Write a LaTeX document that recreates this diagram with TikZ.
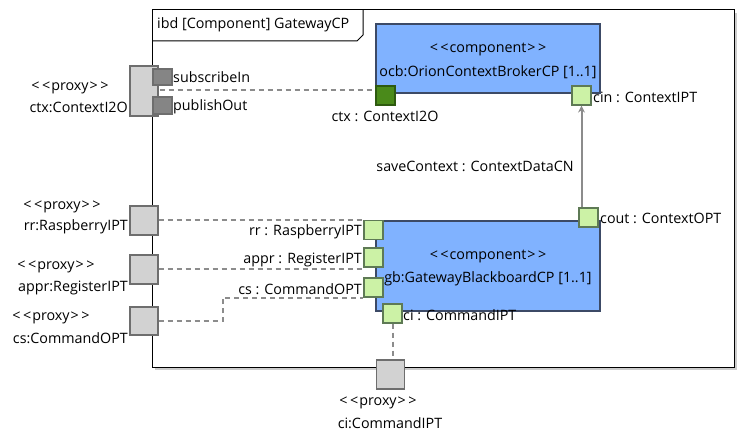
\documentclass[tikz,border=0pt]{standalone}
\usepackage{fontspec}
\setmainfont{Open Sans}
\usetikzlibrary{arrows.meta,calc}
\definecolor{compblue}{HTML}{80B2FF}
\definecolor{compborder}{HTML}{3C4A66}
\definecolor{portgreen}{HTML}{CCF2A6}
\definecolor{portborder}{HTML}{5E7A55}
\definecolor{darkgreen}{HTML}{4A8A1A}
\definecolor{darkgreenb}{HTML}{2E5A10}
\definecolor{proxygray}{HTML}{D2D2D2}
\definecolor{proxyborder}{HTML}{6E6E6E}
\definecolor{innergray}{HTML}{858585}
\definecolor{connline}{HTML}{8C8C8C}
\newcommand{\stereo}[1]{<\kern2.5pt<\kern1pt#1\kern1pt>\kern2.5pt>}
\tikzset{
  every node/.style={font=\fontsize{14.3}{16}\selectfont, inner sep=0pt},
  comp/.style={draw=compborder, fill=compblue, line width=1.2pt, minimum width=224pt, align=center, inner sep=0pt},
  portsq/.style={draw=portborder, fill=portgreen, line width=1.2pt, minimum size=19pt},
  portdark/.style={draw=darkgreenb, fill=darkgreen, line width=1.2pt, minimum size=19pt},
  proxybox/.style={draw=proxyborder, fill=proxygray, line width=1.2pt, minimum width=28pt},
  innerport/.style={draw=proxyborder, fill=innergray, line width=1.2pt, minimum width=19pt},
  conn/.style={draw=connline, line width=2pt, dash pattern=on 5pt off 4pt},
  lbl/.style={text=black},
}
\begin{document}
\begin{tikzpicture}[x=1pt,y=-1pt]
\useasboundingbox (0,0) rectangle (746,443);
% frame with shadow
\draw[gray!40, line width=2pt] (736,13) -- (736,369) -- (155,369);
\draw[black, line width=1pt, fill=white] (152,10) rectangle (734,367);
\draw[black, line width=1pt] (152,41) -- (357,41) -- (363,35) -- (363,10);
\node[lbl, anchor=west] (title) at (157,25) {ibd [Component] GatewayCP};

% components
\node[comp, minimum height=69pt] (ocb) at (488,58.5) {};
\node[lbl] (ocbst) at (488,50) {\stereo{component}};
\node[lbl] (ocbname) at (488,72) {ocb:OrionContextBrokerCP [1..1]};
\node[comp, minimum height=90pt] (gb) at (488,266) {};
\node[lbl] (gbst) at (488,257) {\stereo{component}};
\node[lbl] (gbname) at (488,279) {gb:GatewayBlackboardCP [1..1]};

% ports on components
\node[portdark] (ctxport) at (385.5,95.5) {};
\node[portsq] (cin) at (581.5,95.5) {};
\node[portsq] (cout) at (588.5,217.5) {};
\node[portsq] (rrport) at (373.5,230) {};
\node[portsq] (apprport) at (373.5,257.5) {};
\node[portsq] (csport) at (373.5,287.5) {};
\node[portsq] (ciport) at (392.5,313.5) {};

% port labels
\node[lbl, anchor=center] (ctxlbl) at (385,116) {ctx : ContextI2O};
\node[lbl, anchor=west] (cinlbl) at (593,97) {cin : ContextIPT};
\node[lbl, anchor=west] (coutlbl) at (600,218) {cout : ContextOPT};
\node[lbl, anchor=east] (rrlbl) at (362,232) {rr : RaspberryIPT};
\node[lbl, anchor=east] (apprlbl) at (362,260) {appr : RegisterIPT};
\node[lbl, anchor=east] (cslbl) at (362,289) {cs : CommandOPT};
\node[lbl, anchor=west] (cilbl) at (403,315) {ci : CommandIPT};

% proxy ports
\node[proxybox, minimum height=50pt] (ctxproxy) at (144,91) {};
\node[innerport, minimum height=16pt] (subin) at (162.5,77) {};
\node[innerport, minimum height=17pt] (pubout) at (162.5,105.5) {};
\node[lbl, anchor=west] (subinlbl) at (173,77) {subscribeIn};
\node[lbl, anchor=west] (puboutlbl) at (173,107) {publishOut};
\node[lbl] (ctxpst) at (70,88) {\stereo{proxy}};
\node[lbl, anchor=east] (ctxpname) at (128,107) {ctx:ContextI2O};

\node[proxybox, minimum height=29pt] (rrproxy) at (144,220.5) {};
\node[lbl] (rrpst) at (62,207) {\stereo{proxy}};
\node[lbl, anchor=east] (rrpname) at (128,227) {rr:RaspberryIPT};

\node[proxybox, minimum height=29pt] (apprproxy) at (144,269.5) {};
\node[lbl] (apprpst) at (56,267) {\stereo{proxy}};
\node[lbl, anchor=east] (apprpname) at (128,288) {appr:RegisterIPT};

\node[proxybox, minimum height=28pt] (csproxy) at (144,321) {};
\node[lbl] (cspst) at (51,318) {\stereo{proxy}};
\node[lbl, anchor=east] (cspname) at (128,338) {cs:CommandOPT};

\node[proxybox, minimum height=29pt] (ciproxy) at (390.5,374.5) {};
\node[lbl] (cipst) at (378,403) {\stereo{proxy}};
\node[lbl] (cipname) at (390,423) {ci:CommandIPT};

% connectors
\draw[conn] ($(ctxproxy.east)+(1,-1)$) -- ($(ctxproxy.east -| ctxport.west)+(0,-1)$);
\draw[conn] (rrproxy.east) -- (rrproxy.east -| rrport.west);
\draw[conn] (apprproxy.east) -- (apprproxy.east -| apprport.west);
\draw[conn] (csproxy.east) -- ++(64,0) |- (csport.south west);
\draw[conn] (ciport.south) -- (ciport.south |- ciproxy.north);
\draw[connline, line width=2pt, -{Stealth[length=7pt,width=7pt]}] (cin.south |- cout.north) -- (cin.south);
\node[lbl] (savelbl) at (475,166) {saveContext : ContextDataCN};
\end{tikzpicture}
\end{document}
